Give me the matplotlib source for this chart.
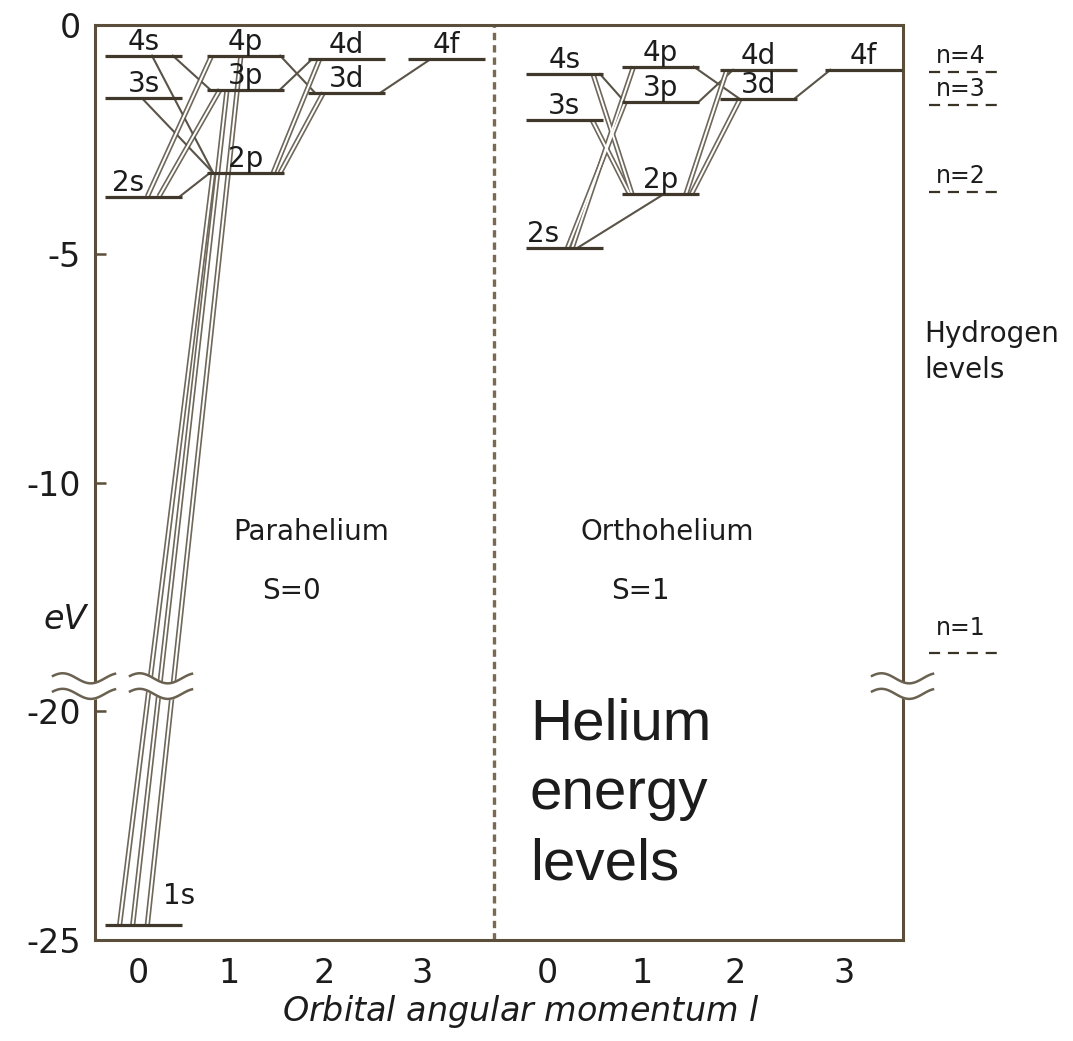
import numpy as np
import matplotlib.pyplot as plt

plt.rcParams['font.family'] = ['DejaVu Sans']

# level energies (eV)
para_names = ['1s', '2s', '3s', '4s', '2p', '3p', '4p', '3d', '4d', '4f']
para_l = [0, 0, 0, 0, 1, 1, 1, 2, 2, 3]
para_E = [-24.67, -3.75, -1.60, -0.67, -3.23, -1.41, -0.67, -1.48, -0.75, -0.75]

ortho_names = ['2s', '3s', '4s', '2p', '3p', '4p', '3d', '4d', '4f']
ortho_l = [0, 0, 0, 1, 1, 1, 2, 2, 3]
ortho_E = [-4.87, -2.08, -1.07, -3.70, -1.69, -0.91, -1.62, -0.98, -0.98]

# hydrogen levels for comparison
hyd_n = [4, 3, 2, 1]
hyd_E = [-1.03, -1.75, -3.65, -13.73]

# transitions (upper, lower)
para_trans = [('2p', '1s'), ('3p', '1s'), ('4p', '1s'),
              ('2p', '2s'), ('3p', '2s'), ('4p', '2s'),
              ('3s', '2p'), ('4s', '2p'), ('4s', '3p'),
              ('4d', '3p'), ('4p', '3d'), ('3d', '2p'), ('4d', '2p'),
              ('4f', '3d')]
ortho_trans = [('2p', '2s'), ('3p', '2s'), ('4p', '2s'),
               ('3s', '2p'), ('4s', '2p'), ('4s', '3p'),
               ('4d', '3p'), ('4p', '3d'), ('3d', '2p'), ('4d', '2p'),
               ('4f', '3d')]

l_labels = ['0', '1', '2', '3', '0', '1', '2', '3']
ytick_vals = [0, -5, -10, -20, -25]


def brk(e):
    # axis is broken between -15 and -20 eV
    return e + 5 if e < -15 else e


# ---- layout -------------------------------------------------------------
bar_w = 0.77
para_x0 = [0.10, 1.12, 2.13, 3.13]
ortho_x0 = [4.31, 5.27, 6.25, 7.30]
tick_x = [0.43, 1.34, 2.29, 3.27, 4.52, 5.47, 6.40, 7.49]

# where each transition touches the bars (fraction along upper, lower bar)
para_anchor = {('2p', '1s'): (0.08, 0.19), ('3p', '1s'): (0.26, 0.36),
               ('4p', '1s'): (0.44, 0.55), ('2p', '2s'): (0.04, 0.97),
               ('3p', '2s'): (0.17, 0.70), ('4p', '2s'): (0.06, 0.55),
               ('3s', '2p'): (0.48, 0.08), ('4s', '2p'): (0.61, 0.08),
               ('4s', '3p'): (0.88, 0.04), ('4d', '3p'): (0.05, 0.95),
               ('4p', '3d'): (0.95, 0.09), ('3d', '2p'): (0.20, 0.95),
               ('4d', '2p'): (0.15, 0.86), ('4f', '3d'): (0.29, 0.94)}
ortho_anchor = {('2p', '2s'): (0.54, 0.67), ('3p', '2s'): (0.04, 0.54),
                ('4p', '2s'): (0.15, 0.60), ('3s', '2p'): (0.86, 0.10),
                ('4s', '2p'): (0.87, 0.13), ('4s', '3p'): (0.96, 0.04),
                ('4d', '3p'): (0.17, 0.99), ('4p', '3d'): (0.93, 0.26),
                ('3d', '2p'): (0.26, 0.90), ('4d', '2p'): (0.09, 0.83),
                ('4f', '3d'): (0.07, 0.96)}
double_para = {('2p', '1s'), ('3p', '1s'), ('4p', '1s'), ('3p', '2s'),
               ('4p', '2s'), ('3d', '2p'), ('4d', '2p')}
double_ortho = {('3p', '2s'), ('4p', '2s'), ('3d', '2p'), ('4d', '2p'),
                ('3s', '2p'), ('4s', '2p')}

frame_c = '#5b4f3c'
bar_c = '#3f382b'
line_c = '#6e675a'
text_c = '#1c1c1c'

fig = plt.figure(figsize=(10.73, 10.41), dpi=100)
ax = fig.add_axes([95 / 1073, 101 / 1041, 808 / 1073, 915 / 1041])
ax.set_xlim(0, 8.08)
ax.set_ylim(-20, 0)


def draw_group(names, ls, es, x0s, trans, anchor, doubles, nudges):
    pos = {}
    for n, l, e in zip(names, ls, es):
        x0 = x0s[l]
        y = brk(e)
        pos[n] = (x0, y)
        ax.plot([x0, x0 + bar_w], [y, y], color=bar_c, lw=2.3, zorder=4,
                solid_capstyle='butt')
        dx, dy = nudges.get(n, (0, 0.13))
        ax.text(x0 + bar_w / 2 + dx, y + dy, n, ha='center', va='baseline',
                fontsize=20, color=text_c, zorder=6)
    for t in trans:
        fu, fl = anchor[t]
        xu, yu = pos[t[0]]
        xl, yl = pos[t[1]]
        xs = [xu + fu * bar_w, xl + fl * bar_w]
        ys = [yu, yl]
        if t in doubles:
            ax.plot(xs, ys, color=line_c, lw=3.8, zorder=2, solid_capstyle='butt')
            ax.plot(xs, ys, color='white', lw=1.4, zorder=2.1, solid_capstyle='butt')
        else:
            ax.plot(xs, ys, color='#5a5448', lw=1.5, zorder=2)


draw_group(para_names, para_l, para_E, para_x0, para_trans, para_anchor,
           double_para, {'2s': (-0.15, 0.13), '1s': (0.36, 0.45)})
draw_group(ortho_names, ortho_l, ortho_E, ortho_x0, ortho_trans, ortho_anchor,
           double_ortho, {'2s': (-0.21, 0.13)})

# divider between para and ortho
ax.axvline(3.99, color='#7a6a52', lw=2.4, dashes=(2.2, 1.5), zorder=1)

# hydrogen levels outside the frame
for n, e in zip(hyd_n, hyd_E):
    ax.plot([8.34, 9.04], [e, e], color='#3a3426', lw=1.6, dashes=(5, 3.5),
            clip_on=False)
    ax.text(8.66, e + (0.2 if n != 1 else 0.4), 'n=%d' % n, ha='center',
            va='baseline', fontsize=17, color=text_c)
ax.text(8.29, -7.15, 'Hydrogen\nlevels', ha='left', va='center', fontsize=20,
        color=text_c, linespacing=1.35, clip_on=False)


# axis break marks
def wave_pair(x0, x1, yc):
    t = np.linspace(0, 1, 80)
    xs = x0 + (x1 - x0) * t
    off = 0.11 * np.sin(2 * np.pi * t * 1.1 + 0.5)
    up = yc + 0.17 + off
    lo = yc - 0.17 + off
    f = ax.fill_between(xs, lo, up, color='white', zorder=7)
    f.set_clip_on(False)
    for yy in (up, lo):
        ax.plot(xs, yy, color='#6a6150', lw=1.8, zorder=8, clip_on=False)


wave_pair(-0.42, 0.20, -14.45)
wave_pair(0.35, 0.97, -14.45)
wave_pair(7.77, 8.38, -14.45)

# texts
ax.text(2.16, -11.25, 'Parahelium', ha='center', va='baseline', fontsize=20,
        color=text_c)
ax.text(1.96, -12.55, 'S=0', ha='center', va='baseline', fontsize=20,
        color=text_c)
ax.text(5.72, -11.25, 'Orthohelium', ha='center', va='baseline', fontsize=20,
        color=text_c)
ax.text(5.45, -12.55, 'S=1', ha='center', va='baseline', fontsize=20,
        color=text_c)
ax.text(4.35, -14.7, 'Helium\nenergy\nlevels', ha='left', va='top',
        fontsize=42, color=text_c, linespacing=1.38,
        family='Liberation Sans')
ax.text(-0.30, -13.0, 'eV', ha='center', va='center', fontsize=24,
        style='italic', color=text_c, clip_on=False)

# axes styling
for s in ax.spines.values():
    s.set_color(frame_c)
    s.set_linewidth(2.2)
ax.set_yticks([brk(v) for v in ytick_vals])
ax.set_yticklabels([str(v) for v in ytick_vals])
ax.set_xticks(tick_x)
ax.set_xticklabels(l_labels)
ax.tick_params(axis='y', direction='in', length=8, width=1.8, color=frame_c,
               labelsize=24, pad=10, labelcolor=text_c)
ax.tick_params(axis='x', length=0, labelsize=24, pad=12, labelcolor=text_c)
ax.set_xlabel('Orbital angular momentum $\\mathit{l}$', fontsize=24,
              style='italic', color=text_c)
ax.xaxis.set_label_coords(0.527, -0.058)

fig.savefig('out.png', dpi=100)
